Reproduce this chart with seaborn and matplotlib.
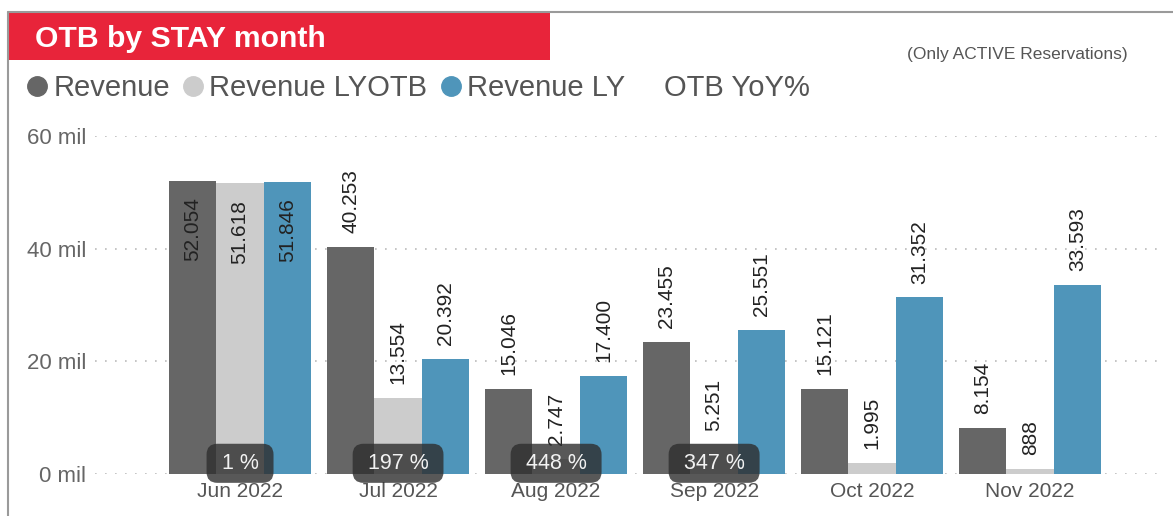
import pandas as pd
import matplotlib.pyplot as plt
import seaborn as sns
from matplotlib.lines import Line2D
from matplotlib.patches import Rectangle

# data (values in thousands)
months = ['Jun 2022', 'Jul 2022', 'Aug 2022', 'Sep 2022', 'Oct 2022', 'Nov 2022']
revenue = [52054, 40253, 15046, 23455, 15121, 8154]
revenue_lyotb = [51618, 13554, 2747, 5251, 1995, 888]
revenue_ly = [51846, 20392, 17400, 25551, 31352, 33593]
yoy_labels = ['1 %', '197 %', '448 %', '347 %', '', '']

series = ['Revenue', 'Revenue LYOTB', 'Revenue LY']
colors = ['#666666', '#CCCCCC', '#4F95BA']

df = pd.DataFrame({
    'month': months * 3,
    'series': [s for s in series for _ in months],
    'value': revenue + revenue_lyotb + revenue_ly,
})
df['mil'] = df['value'] / 1000

sns.set_theme(style='white')
plt.rcParams['font.family'] = ['Liberation Sans', 'DejaVu Sans']

fig = plt.figure(figsize=(11.73, 5.16), dpi=100)
ax = fig.add_axes([0.0807, 0.0814, 0.9053, 0.655])

sns.barplot(data=df, x='month', y='mil', hue='series', palette=colors,
            width=0.9, saturation=1, linewidth=0, ax=ax, legend=False)

ax.set_ylim(0, 60)
ax.set_xlim(-0.92, 5.8)
ax.set_yticks([0, 20, 40, 60])
ax.set_yticklabels([f'{t} mil' for t in [0, 20, 40, 60]])
ax.set_xlabel('')
ax.set_ylabel('')
ax.tick_params(axis='y', length=0, pad=6, labelsize=16, labelcolor='#666666')
ax.tick_params(axis='x', length=0, pad=6, labelsize=15, labelcolor='#555555')
for s in ax.spines.values():
    s.set_visible(False)
ax.grid(axis='y', linestyle=(0, (1, 5)), color='#BBBBBB', linewidth=1.2)
ax.set_axisbelow(True)

# value labels
vals = [revenue, revenue_lyotb, revenue_ly]
for cont, v in zip(ax.containers, vals):
    for bar, val in zip(cont, v):
        txt = f'{val:,}'.replace(',', '.')
        x = bar.get_x() + bar.get_width() / 2
        h = bar.get_height()
        if h > 45:
            ax.annotate(txt, (x, h), xytext=(0, -12), textcoords='offset points',
                        rotation=90, ha='center', va='top', fontsize=15, color='#222222')
        else:
            ax.annotate(txt, (x, h), xytext=(0, 10), textcoords='offset points',
                        rotation=90, ha='center', va='bottom', fontsize=15, color='#222222')

# YoY % badges
for i, lab in enumerate(yoy_labels):
    if lab:
        ax.text(i, 1.9, f' {lab} ', ha='center', va='center', fontsize=15.5, color='#F2F2F2',
                bbox=dict(boxstyle='round,pad=0.42,rounding_size=0.5', fc='#2E2E2E',
                          ec='none', alpha=0.8))

# frame lines (top and left) and title banner
fig.add_artist(Line2D([8 / 1173, 8 / 1173], [0, 1 - 12 / 516], transform=fig.transFigure,
                      color='#9A9A9A', lw=1.5))
fig.add_artist(Line2D([8 / 1173, 1], [1 - 12 / 516, 1 - 12 / 516], transform=fig.transFigure,
                      color='#9A9A9A', lw=1.5))
fig.add_artist(Rectangle((8 / 1173, 1 - 60 / 516), 542 / 1173, 48 / 516,
                         transform=fig.transFigure, fc='#E8243A', ec='none'))
fig.text(35 / 1173, 1 - 39 / 516, 'OTB by STAY month', color='white', fontsize=21.7,
         fontweight='bold', va='center', ha='left')
fig.text(1128 / 1173, 1 - 55 / 516, '(Only ACTIVE Reservations)', color='#555555',
         fontsize=12.5, va='center', ha='right')

# legend
handles = [Line2D([], [], marker='o', linestyle='', markersize=14, color=c) for c in colors]
handles.append(Line2D([], [], marker='', linestyle=''))
fig.legend(handles, series + ['OTB YoY%'], loc='center left',
           bbox_to_anchor=(27 / 1173, 1 - 88 / 516), ncol=4, frameon=False,
           fontsize=21, labelcolor='#555555', handlelength=0.7, handletextpad=0.2,
           columnspacing=0.45, borderpad=0, borderaxespad=0)

fig.savefig('out.png', dpi=100)
